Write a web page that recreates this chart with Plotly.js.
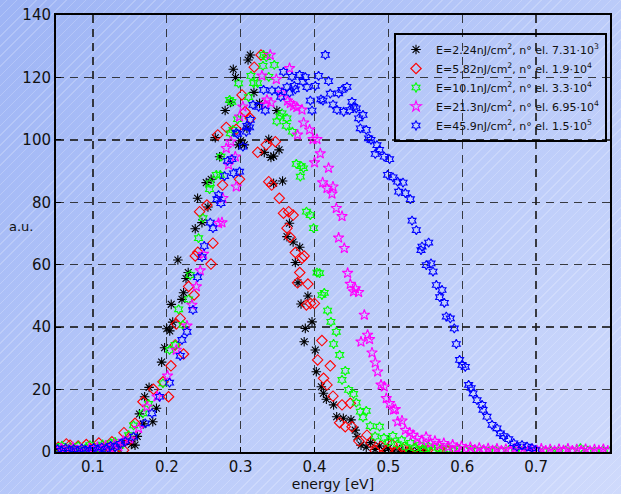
<!DOCTYPE html>
<html>
<head>
<meta charset="utf-8">
<script src="https://cdn.plot.ly/plotly-3.0.1.min.js"></script>
<style>
html,body{margin:0;padding:0;}
body{width:621px;height:494px;overflow:hidden;
background-image:repeating-linear-gradient(-45deg, rgba(255,255,255,0) 0px, rgba(255,255,255,0) 6px, rgba(255,255,255,0.2) 6px, rgba(255,255,255,0.2) 7px),
linear-gradient(135deg, #9db4f5 0%, #b8c9f9 50%, #cfdafc 100%);}
#chart{width:621px;height:494px;}
</style>
</head>
<body>
<div id="chart"></div>
<script>
// Series names
const seriesNames = [
  "E=2.24nJ/cm<sup>2</sup>, n° el. 7.31·10<sup>3</sup>",
  "E=5.82nJ/cm<sup>2</sup>, n° el. 1.9·10<sup>4</sup>",
  "E=10.1nJ/cm<sup>2</sup>, n° el. 3.3·10<sup>4</sup>",
  "E=21.3nJ/cm<sup>2</sup>, n° el. 6.95·10<sup>4</sup>",
  "E=45.9nJ/cm<sup>2</sup>, n° el. 1.5·10<sup>5</sup>"
];
const xTicks = [0.1,0.2,0.3,0.4,0.5,0.6,0.7,0.8];
const yTicks = [0,20,40,60,80,100,120,140];

// E=2.24
const x1 = [0.051,0.056,0.061,0.067,0.072,0.078,0.083,0.089,0.094,0.100,0.105,0.111,0.117,0.122,0.128,0.134,0.140,0.146,0.152,0.157,0.160,0.163,0.168,0.170,0.176,0.181,0.186,0.193,0.197,0.200,0.204,0.206,0.208,0.215,0.2205,0.2227,0.226,0.229,0.2385,0.2417,0.2476,0.2534,0.2557,0.260,0.2656,0.2715,0.279,0.286,0.290,0.293,0.297,0.300,0.305,0.3085,0.310,0.313,0.318,0.3256,0.332,0.338,0.341,0.3446,0.3446,0.349,0.352,0.3567,0.3627,0.366,0.371,0.374,0.3776,0.380,0.3817,0.386,0.3875,0.391,0.3966,0.401,0.4024,0.4092,0.412,0.416,0.4258,0.430,0.439,0.4494,0.455,0.4575,0.4629,0.470,0.476,0.482,0.488,0.494,0.500,0.507,0.515,0.523,0.531,0.540,0.548];
const y1 = [0.8,0.3,0.6,1.0,0.4,0.7,0.2,0.9,0.5,1.1,0.6,1.3,0.8,1.6,1.9,1.2,2.8,3.6,2.4,2.2,5.0,12.2,9.0,17.7,20.7,9.7,14.0,28.8,33.4,39.5,38.8,47.3,41.6,61.5,48.9,51.0,55.6,57.5,71.5,81.3,73.5,86.3,78.5,87.4,100.7,94.6,109.4,112.0,122.6,120.0,98.4,99.7,98.4,103.7,125.6,127.2,115.2,111.7,96.0,100.2,94.4,86.1,94.8,109.4,96.8,86.8,69.0,73.3,67.3,60.7,54.2,65.6,47.4,35.3,39.6,50.0,41.7,32.7,25.7,20.9,18.8,16.9,15.1,11.3,10.8,10.3,7.0,4.9,2.2,1.5,3.0,0.8,1.9,0.5,1.2,0.3,0.7,0.2,0.5,0.3,0.4];

// E=5.82
const x2 = [0.053,0.059,0.064,0.069,0.075,0.080,0.086,0.091,0.097,0.102,0.108,0.113,0.119,0.1257,0.131,0.1415,0.142,0.150,0.157,0.1677,0.182,0.1948,0.2024,0.2056,0.2114,0.2128,0.2182,0.2227,0.2295,0.237,0.2385,0.242,0.2444,0.2543,0.2598,0.2625,0.269,0.2755,0.2805,0.294,0.2985,0.3018,0.306,0.313,0.3184,0.323,0.3275,0.3347,0.338,0.342,0.347,0.3523,0.358,0.3627,0.365,0.367,0.371,0.374,0.377,0.380,0.383,0.386,0.389,0.391,0.3945,0.3999,0.4042,0.410,0.4122,0.4169,0.4213,0.425,0.434,0.4372,0.4416,0.4484,0.4507,0.460,0.471,0.476,0.482,0.490,0.498,0.505,0.512,0.520,0.528,0.536,0.545,0.553,0.562,0.571,0.580];
const y2 = [1.5,0.4,2.6,2.2,0.6,1.9,0.3,2.4,0.8,1.2,2.9,0.5,1.8,3.3,0.9,0.6,6.2,4.0,9.2,16.1,20.1,22.5,17.7,27.6,34.3,41.0,42.8,31.4,53.0,50.3,62.8,64.0,77.0,79.1,60.2,66.9,101.6,85.5,104.0,103.4,87.4,114.4,109.0,106.9,123.3,96.0,127.2,98.4,86.6,85.5,99.4,81.3,76.5,71.7,77.0,68.8,75.9,63.9,54.2,57.5,62.1,62.8,47.1,53.8,47.6,47.6,29.5,35.7,23.6,21.5,27.6,17.9,9.4,15.1,8.1,15.6,8.1,3.5,5.4,3.0,0.4,1.8,0.6,2.5,0.3,1.0,0.4,1.2,0.3,0.6,0.2,0.5,0.3];

// E=10.1
const x3 = [0.052,0.058,0.063,0.069,0.074,0.080,0.085,0.091,0.096,0.102,0.107,0.113,0.118,0.124,0.130,0.136,0.1482,0.155,0.1677,0.1753,0.1948,0.2037,0.2114,0.216,0.2218,0.2295,0.2317,0.243,0.249,0.2579,0.2588,0.267,0.2724,0.2733,0.285,0.286,0.288,0.2896,0.2958,0.2972,0.3107,0.3139,0.3175,0.323,0.3302,0.331,0.3347,0.338,0.3455,0.349,0.353,0.356,0.3617,0.3627,0.370,0.3753,0.3808,0.382,0.385,0.389,0.3943,0.3987,0.4033,0.4068,0.410,0.4132,0.4177,0.4222,0.4258,0.4295,0.434,0.4372,0.4416,0.4461,0.4528,0.4565,0.462,0.4656,0.470,0.4755,0.482,0.488,0.494,0.500,0.506,0.512,0.518,0.524,0.530,0.536,0.542,0.548,0.554,0.560,0.567,0.574,0.581,0.588,0.596,0.604,0.612,0.620,0.628,0.636,0.645,0.654,0.663,0.672,0.681,0.690,0.700,0.710,0.720,0.730,0.740,0.750,0.760,0.770,0.780,0.790,0.800];
const y3 = [1.2,2.0,0.6,1.5,0.8,1.9,0.4,1.3,2.2,0.7,1.6,2.4,1.1,2.8,3.2,2.0,5.4,8.5,12.4,15.4,22.0,32.7,34.3,45.7,40.7,48.9,56.7,68.5,74.9,84.2,86.1,88.8,88.8,94.6,112.8,102.1,112.2,103.2,106.6,118.1,113.7,120.5,118.2,118.2,123.7,127.2,126.5,120.2,124.0,105.9,107.5,108.5,104.5,106.9,102.6,92.3,88.2,91.6,90.9,77.0,75.9,71.7,57.5,57.3,50.3,51.0,45.3,41.7,34.6,38.5,31.1,23.1,26.0,19.9,18.6,15.8,12.9,11.1,13.2,8.3,5.0,8.1,4.5,3.2,5.2,2.5,3.8,1.6,2.9,1.2,2.2,0.9,1.8,0.6,1.4,0.8,1.1,0.4,0.9,0.5,0.8,0.3,0.6,0.2,0.5,0.3,0.6,0.2,0.4,0.3,0.5,0.2,0.4,0.3,0.5,0.2,1.2,0.4,0.3,0.5,0.3];

// E=21.3
const x4 = [0.051,0.057,0.062,0.068,0.073,0.079,0.084,0.090,0.095,0.101,0.106,0.112,0.117,0.123,0.129,0.135,0.141,0.150,0.1618,0.1731,0.1867,0.201,0.2128,0.2273,0.234,0.240,0.2453,0.2498,0.270,0.2747,0.276,0.2805,0.2836,0.2867,0.2927,0.294,0.2985,0.303,0.3288,0.3333,0.3356,0.340,0.341,0.3483,0.356,0.3635,0.3662,0.3672,0.3716,0.376,0.377,0.383,0.3852,0.3933,0.398,0.400,0.4033,0.4078,0.411,0.4169,0.419,0.4236,0.425,0.4295,0.4326,0.4372,0.4403,0.4448,0.4484,0.4528,0.4552,0.4597,0.4629,0.4674,0.4718,0.4745,0.4778,0.4822,0.4854,0.490,0.4944,0.4971,0.5016,0.507,0.5094,0.5125,0.5184,0.523,0.5288,0.5333,0.539,0.545,0.551,0.557,0.563,0.569,0.575,0.581,0.587,0.593,0.599,0.605,0.611,0.617,0.623,0.629,0.635,0.641,0.647,0.653,0.659,0.665,0.671,0.677,0.683,0.689,0.695,0.701,0.707,0.713,0.719,0.725,0.731,0.737,0.743,0.749,0.755,0.761,0.767,0.773,0.779,0.785,0.791,0.797];
const y4 = [0.5,1.1,0.3,0.8,1.4,0.5,1.0,0.2,1.2,0.6,1.5,0.9,2.0,1.3,2.5,1.8,3.5,4.2,7.6,14.5,17.7,24.4,32.7,40.4,47.1,53.0,58.1,63.4,73.3,73.5,81.3,97.3,92.0,99.4,94.6,85.0,107.4,110.6,120.5,111.2,112.8,127.2,111.9,119.4,115.1,112.5,122.9,111.7,110.9,110.4,101.6,109.6,105.5,103.2,100.2,92.7,100.2,95.6,86.3,84.5,91.0,82.7,85.0,78.1,68.6,75.5,65.3,57.3,53.8,51.4,52.4,51.2,35.3,43.9,37.5,36.1,31.8,28.6,25.7,21.5,20.9,17.2,15.6,13.5,13.7,9.7,10.0,7.0,6.2,5.4,4.4,3.6,4.8,2.9,3.5,2.2,2.8,1.6,2.3,1.2,1.8,0.9,1.5,0.7,1.3,0.6,1.1,0.5,1.0,0.4,0.9,0.5,1.1,0.4,0.8,0.3,0.9,0.5,1.0,0.4,0.8,0.3,0.9,0.5,1.0,0.4,0.8,0.5,0.9,0.3,0.8,0.5,0.9,0.4];

// E=45.9
const x5 = [0.052,0.057,0.063,0.068,0.074,0.079,0.085,0.090,0.096,0.101,0.107,0.112,0.118,0.124,0.130,0.137,0.144,0.155,0.1708,0.1799,0.1902,0.2037,0.2182,0.2205,0.2273,0.2354,0.2417,0.2476,0.2507,0.2588,0.2625,0.2679,0.270,0.2733,0.2782,0.2823,0.2882,0.2904,0.294,0.2958,0.2985,0.303,0.3076,0.3085,0.312,0.313,0.3167,0.3243,0.331,0.3333,0.3424,0.351,0.3542,0.358,0.3627,0.3662,0.3695,0.3726,0.374,0.3798,0.3844,0.3875,0.3898,0.3943,0.3966,0.401,0.4055,0.4087,0.4114,0.4146,0.419,0.4213,0.425,0.4304,0.4326,0.4372,0.4394,0.4439,0.4475,0.4507,0.4529,0.4565,0.4597,0.462,0.4656,0.470,0.4732,0.4764,0.4822,0.4845,0.488,0.4944,0.4989,0.5016,0.5062,0.5124,0.5139,0.5198,0.523,0.5297,0.532,0.5378,0.5441,0.5455,0.5513,0.5545,0.5577,0.5604,0.5649,0.5694,0.5726,0.5757,0.5784,0.5838,0.5892,0.5919,0.5964,0.5996,0.6041,0.6086,0.612,0.6146,0.620,0.6268,0.6281,0.6335,0.6403,0.647,0.6515,0.656,0.6628,0.6696,0.6741,0.6809,0.6877,0.6944,0.699];
const y5 = [0.9,0.4,1.2,0.6,0.9,0.3,1.1,0.7,0.5,1.3,0.8,1.5,1.0,2.0,1.6,2.6,3.4,4.9,9.2,12.4,17.7,22.2,30.8,35.9,38.5,45.5,56.0,62.4,66.0,73.5,71.7,81.0,82.3,79.7,88.4,93.3,93.8,89.3,102.3,101.9,89.8,97.8,102.6,104.5,104.0,106.4,111.2,110.6,116.0,109.4,115.8,115.8,113.8,121.8,116.9,115.1,120.2,117.3,116.2,120.8,118.6,120.1,116.9,112.6,109.4,117.3,120.5,113.0,112.6,127.2,118.8,114.8,111.3,109.6,114.9,116.0,109.0,117.0,109.5,112.2,110.6,110.1,106.9,103.7,108.0,103.2,100.5,100.0,95.5,98.3,96.8,94.6,88.8,93.8,88.0,86.6,83.4,86.3,82.9,81.0,74.1,71.1,64.7,65.8,59.9,67.1,60.4,57.8,53.5,49.6,51.9,47.8,43.4,42.8,39.6,34.6,29.5,27.9,27.3,21.5,20.5,18.8,16.6,15.1,13.5,11.3,8.7,7.6,6.0,5.1,4.1,2.8,1.7,2.2,1.7,1.2,0.6];

const xs = [x1,x2,x3,x4,x5];
const ys = [y1,y2,y3,y4,y5];
const colors = ["#000000","#ff0000","#00ff00","#ff00ff","#0000ff"];
const symbols = ["asterisk-open","diamond-open","hexagram-open","star-open","hexagram-open"];
const sizes = [8,8,7,8,7];

const traces = xs.map((x,i)=>({
  type:"scatter", mode:"markers", x:x, y:ys[i], name:seriesNames[i],
  marker:{symbol:symbols[i], color:colors[i], size:sizes[i], line:{color:colors[i], width:1.1}}
}));

const fontFam = "DejaVu Sans, sans-serif";
const axisCommon = {
  showline:true, linecolor:"#000", linewidth:2, mirror:true,
  showgrid:true, gridcolor:"rgba(30,30,30,0.85)", gridwidth:1.3, griddash:"8px,6px",
  zeroline:false, ticks:"inside", ticklen:5, tickcolor:"#000",
  tickfont:{family:fontFam, size:15, color:"#111"}
};

const layout = {
  width:621, height:494,
  margin:{l:56, r:11, t:15, b:42},
  paper_bgcolor:"rgba(0,0,0,0)", plot_bgcolor:"rgba(0,0,0,0)",
  font:{family:fontFam, color:"#111"},
  showlegend:true,
  legend:{x:0.9946, xanchor:"right", y:0.9588, yanchor:"top",
    bordercolor:"#000", borderwidth:2, bgcolor:"rgba(0,0,0,0)",
    font:{family:fontFam, size:11, color:"#111"}, itemsizing:"trace", tracegroupgap:0},
  xaxis:Object.assign({}, axisCommon, {range:[0.05,0.8], tickvals:xTicks, ticktext:xTicks.map(v=>v.toFixed(1)),
    title:{text:"energy [eV]", font:{family:fontFam, size:14, color:"#111"}, standoff:2}}),
  yaxis:Object.assign({}, axisCommon, {range:[0,140], tickvals:yTicks, ticktext:yTicks.map(String)}),
  annotations:[{text:"a.u.", xref:"paper", yref:"paper", x:-0.063, y:0.515, xanchor:"center", yanchor:"middle",
    showarrow:false, font:{family:fontFam, size:13, color:"#111"}}]
};

Plotly.newPlot("chart", traces, layout, {displayModeBar:false, staticPlot:true});
</script>
</body>
</html>
